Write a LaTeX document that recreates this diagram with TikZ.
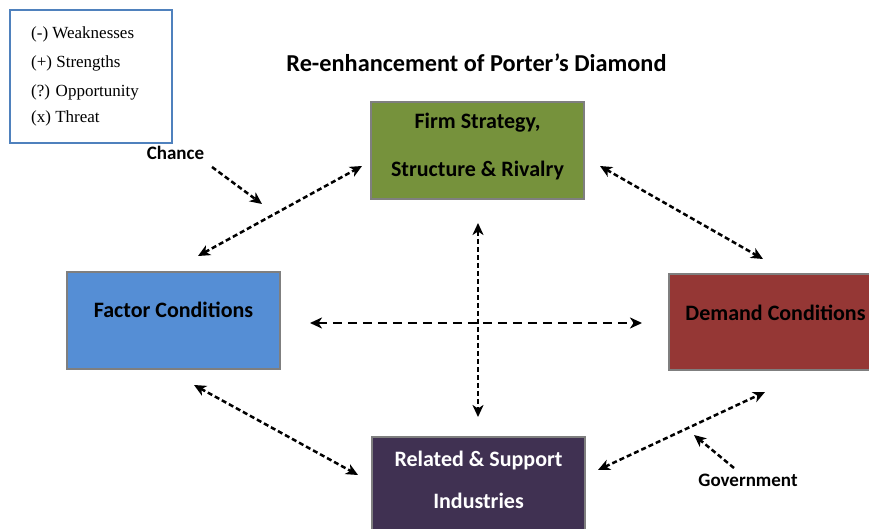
\documentclass[tikz,border=0pt]{standalone}
\usepackage{fontspec}
\setmainfont{Carlito}
\newfontfamily\legendfont{Liberation Serif}
\usetikzlibrary{arrows.meta}
\definecolor{firmgreen}{RGB}{118,146,60}
\definecolor{factorblue}{RGB}{85,142,213}
\definecolor{demandred}{RGB}{149,55,53}
\definecolor{relpurple}{RGB}{64,49,82}
\definecolor{boxgray}{RGB}{127,127,127}
\definecolor{legendblue}{RGB}{79,129,189}
\begin{document}
\begin{tikzpicture}[x=1pt,y=-1pt,
  pbox/.style={draw=boxgray, line width=2.5pt, minimum width=213pt, minimum height=97pt, inner sep=0pt, outer sep=0pt},
  btext/.style={font=\fontsize{22}{26}\selectfont\bfseries, inner sep=0pt, anchor=base},
  lbl/.style={font=\fontsize{19}{22}\selectfont\bfseries, inner sep=0pt, anchor=base},
  ltext/.style={font=\legendfont\fontsize{17}{20}\selectfont, inner sep=0pt, anchor=base west},
  ttext/.style={font=\fontsize{24.3}{28}\selectfont\bfseries, inner sep=0pt, anchor=base},
  tipd/.tip={Stealth[length=12pt,width=11pt,inset=3.5pt]},
  dotarrow/.style={line width=2.5pt, dash pattern=on 5pt off 3pt, tipd-tipd},
  dotsingle/.style={line width=2.5pt, dash pattern=on 5pt off 3pt, -tipd},
  dasharrow/.style={line width=2.3pt, dash pattern=on 9pt off 6pt, tipd-tipd}
]
\useasboundingbox (0,0) rectangle (869,529);
\clip (0,0) rectangle (869,529);
\fill[white] (0,0) rectangle (869,529);

% legend
\node[draw=legendblue, line width=2.5pt, minimum width=162pt, minimum height=133pt, inner sep=0pt] (legend) at (91,76.5) {};
\node[ltext] (l1) at (31,39) {(-) Weaknesses};
\node[ltext] (l2) at (31,68) {(+) Strengths};
\node[ltext] (l3) at (31,96.5) {(?) Opportunity};
\node[ltext] (l4) at (31,123) {(x) Threat};

% title
\node[ttext] (title) at (476.5,72) {Re-enhancement of Porter’s Diamond};

% boxes
\node[pbox, fill=firmgreen] (firm) at (477.5,150.5) {};
\node[btext] (firm1) at (477.5,129) {Firm Strategy,};
\node[btext] (firm2) at (477.5,176.5) {Structure \& Rivalry};

\node[pbox, fill=factorblue] (factor) at (173.5,320.5) {};
\node[btext] (factorT) at (173.5,317.5) {Factor Conditions};

\node[pbox, fill=demandred, minimum width=240pt, minimum height=96pt] (demand) at (789,322) {};
\node[btext] (demandT) at (775.5,320) {Demand Conditions};

\node[pbox, fill=relpurple, minimum height=110pt] (rel) at (478.5,492) {};
\node[btext, text=white] (rel1) at (478.5,466) {Related \& Support};
\node[btext, text=white] (rel2) at (478.5,508.5) {Industries};

% labels
\node[lbl] (chance) at (175.5,160) {Chance};
\node[lbl] (gov) at (748,486.5) {Government};

% arrow end points
\coordinate (ffA) at (198,256);
\coordinate (ffB) at (362,166);
\coordinate (chA) at (212,167);
\coordinate (chB) at (262,204);
\coordinate (fdA) at (600,166);
\coordinate (fdB) at (763,259);
\coordinate (vA) at (478,223);
\coordinate (vB) at (478,417);
\coordinate (hA) at (310,323);
\coordinate (hB) at (642,323);
\coordinate (frA) at (194,385);
\coordinate (frB) at (358,475);
\coordinate (rdA) at (598,470);
\coordinate (rdB) at (765,392);
\coordinate (gvA) at (734,468);
\coordinate (gvB) at (694,435);

\draw[dotarrow] (ffA) -- (ffB);
\draw[dotsingle] (chA) -- (chB);
\draw[dotarrow] (fdA) -- (fdB);
\draw[dotarrow] (vA) -- (vB);
\draw[dasharrow] (hA) -- (hB);
\draw[dotarrow] (frA) -- (frB);
\draw[dotarrow] (rdA) -- (rdB);
\draw[dotsingle] (gvA) -- (gvB);
\end{tikzpicture}
\end{document}
